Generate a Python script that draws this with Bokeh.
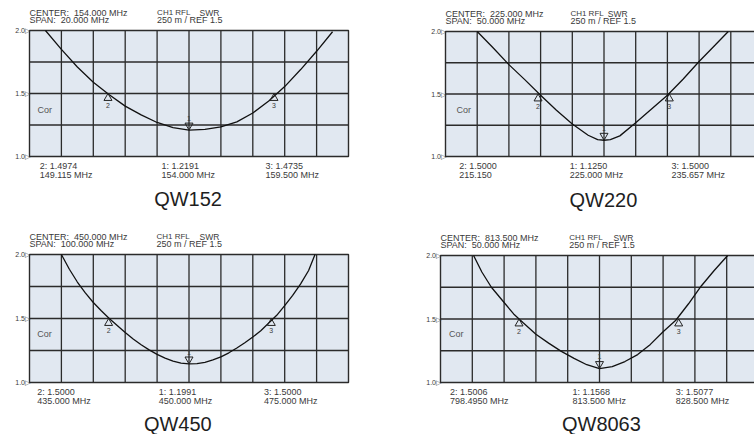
from bokeh.plotting import figure
from bokeh.layouts import gridplot
from bokeh.models import Range1d, ColumnDataSource
from bokeh.embed import file_html
from bokeh.resources import INLINE
from bokeh.core.properties import value
import math

# ---------------- data ----------------
qw152_center, qw152_span = 154.0, 20.0
qw152_freq = [145.0, 146.0, 147.0, 148.0, 149.0, 150.0, 151.0, 152.0, 153.0, 154.0,
              155.0, 156.0, 157.0, 158.0, 159.0, 160.0, 161.0, 162.0, 163.0]
qw152_swr = [2.00, 1.85, 1.71, 1.59, 1.49, 1.40, 1.33, 1.27, 1.23, 1.21,
             1.215, 1.235, 1.275, 1.345, 1.44, 1.555, 1.69, 1.835, 1.99]
qw152_mk_freq = [148.92, 154.0, 159.33]
qw152_mk_swr = [1.5, 1.21, 1.5]
qw152_mk_id = ["2", "1", "3"]
qw152_readout = [["2: 1.4974", "149.115 MHz"], ["1: 1.2191", "154.000 MHz"], ["3: 1.4735", "159.500 MHz"]]

qw220_center, qw220_span = 225.0, 50.0
qw220_freq = [205.0, 207.5, 210.0, 212.5, 215.0, 217.5, 220.0, 222.5, 224.0, 225.0,
              226.0, 227.5, 230.0, 232.5, 235.0, 237.5, 240.0, 242.5, 244.6]
qw220_swr = [2.00, 1.87, 1.735, 1.615, 1.49, 1.37, 1.26, 1.17, 1.135, 1.13,
             1.135, 1.165, 1.27, 1.38, 1.49, 1.62, 1.76, 1.89, 2.00]
qw220_mk_freq = [214.6, 225.0, 235.3]
qw220_mk_swr = [1.5, 1.13, 1.5]
qw220_mk_id = ["2", "1", "3"]
qw220_readout = [["2: 1.5000", "215.150"], ["1: 1.1250", "225.000 MHz"], ["3: 1.5000", "235.657 MHz"]]

qw450_center, qw450_span = 450.0, 100.0
qw450_freq = [410.0, 412.5, 415.0, 417.5, 420.0, 422.5, 425.0, 427.5, 430.0, 432.5, 435.0,
              437.5, 440.0, 442.5, 445.0, 447.5, 450.0, 452.5, 455.0, 457.5, 460.0,
              462.5, 465.0, 467.5, 470.0, 472.5, 475.0, 477.5, 480.0, 482.5, 485.0,
              487.5, 489.5]
qw450_swr = [2.00, 1.885, 1.785, 1.70, 1.625, 1.56, 1.50, 1.445, 1.39, 1.34, 1.295,
             1.255, 1.22, 1.19, 1.167, 1.152, 1.145, 1.148, 1.158, 1.176, 1.20,
             1.232, 1.27, 1.31, 1.355, 1.405, 1.465, 1.525, 1.60, 1.68, 1.77,
             1.875, 2.00]
qw450_mk_freq = [424.8, 450.0, 475.8]
qw450_mk_swr = [1.5, 1.145, 1.5]
qw450_mk_id = ["2", "1", "3"]
qw450_readout = [["2: 1.5000", "435.000 MHz"], ["1: 1.1991", "450.000 MHz"], ["3: 1.5000", "475.000 MHz"]]

qw8063_center, qw8063_span = 813.5, 50.0
qw8063_freq = [793.7, 795.0, 796.5, 798.5, 800.0, 801.5, 803.5, 805.5, 807.5, 809.5, 811.5,
               813.5, 815.5, 817.5, 819.5, 821.5, 823.5, 825.5, 827.5, 829.5, 831.5, 833.65]
qw8063_swr = [2.00, 1.87, 1.75, 1.63, 1.54, 1.47, 1.38, 1.31, 1.245, 1.19, 1.14,
              1.11, 1.125, 1.165, 1.22, 1.30, 1.40, 1.49, 1.62, 1.76, 1.88, 2.00]
qw8063_mk_freq = [800.85, 813.5, 825.95]
qw8063_mk_swr = [1.5, 1.11, 1.5]
qw8063_mk_id = ["2", "1", "3"]
qw8063_readout = [["2: 1.5006", "798.4950 MHz"], ["1: 1.1568", "813.500 MHz"], ["3: 1.5077", "828.500 MHz"]]

y_axis_ticks = [1.0, 1.5, 2.0]
y_grid_ticks = [1.25, 1.5, 1.75]
y_low, y_high = 1.0, 2.0

# ---------------- style ----------------
FONT = "Liberation Sans"
TXT = "#3a3a3a"
GRID = "#2b2b2b"
FILL = "#e1e8f1"
FIG_W, FIG_H = 377, 217
TRI_SIZE = 8
BASE_SHIFT = 0.32   # em: compensation of the rendered baseline position


def panel(name, center, span, freq, swr, mk_f, mk_s, mk_id, readout, cfg):
    start = center - span / 2.0
    div = span / 10.0
    ppx = cfg["div_px"] / div              # pixels per MHz
    ppy = float(cfg["frame_h"])             # pixels per SWR unit
    x0 = start - cfg["left"] / ppx
    y1 = y_high + cfg["top"] / ppy
    p = figure(width=FIG_W, height=FIG_H,
               x_range=Range1d(x0, x0 + FIG_W / ppx), y_range=Range1d(y1 - FIG_H / ppy, y1),
               output_backend="svg", toolbar_location=None, min_border=0,
               background_fill_color="white", border_fill_color="white")
    p.xaxis.visible = False
    p.yaxis.visible = False
    p.grid.visible = False
    p.outline_line_color = None

    end = start + span
    # plot area
    p.quad(left=[start], right=[end], bottom=[y_low], top=[y_high],
           fill_color=FILL, line_color=None)
    # grid
    gx = [start + k * div for k in range(1, 10)]
    p.segment(x0=gx, y0=[y_low] * len(gx), x1=gx, y1=[y_high] * len(gx),
              line_color=GRID, line_width=1.3)
    p.segment(x0=[start] * len(y_grid_ticks), y0=y_grid_ticks, x1=[end] * len(y_grid_ticks),
              y1=y_grid_ticks, line_color=GRID, line_width=1.3)
    # frame
    p.quad(left=[start], right=[end], bottom=[y_low], top=[y_high],
           fill_color=None, line_color=GRID, line_width=1.4)
    # y tick labels
    p.text(x=[start] * len(y_axis_ticks), y=y_axis_ticks,
           text=["%.1f\u25b7" % t for t in y_axis_ticks], text_align="right",
           text_baseline="middle", text_font=value(FONT), text_font_size="7px",
           text_color=TXT, x_offset=0.5)

    # curve
    p.line(freq, swr, line_color="#111111", line_width=1.3)

    # markers: apex of the triangle sits on the trace
    h = TRI_SIZE / 2.0 * math.sqrt(3)
    apex = (2.0 * h / 3.0) / ppy
    up_x = [f for f, m in zip(mk_f, mk_id) if m != "1"]
    up_y = [s - apex for s, m in zip(mk_s, mk_id) if m != "1"]
    dn_x = [f for f, m in zip(mk_f, mk_id) if m == "1"]
    dn_y = [s + apex for s, m in zip(mk_s, mk_id) if m == "1"]
    p.scatter(up_x, up_y, marker="triangle", size=TRI_SIZE, fill_color=None,
              line_color="#222222", line_width=1.0)
    p.scatter(dn_x, dn_y, marker="inverted_triangle", size=TRI_SIZE, fill_color=None,
              line_color="#222222", line_width=1.0)
    noff = [(14.5 if m != "1" else -9.5) - BASE_SHIFT * 7 for m in mk_id]
    src = ColumnDataSource(dict(x=mk_f, y=mk_s, id=mk_id, noff=noff))
    p.text(x="x", y="y", text="id", source=src, y_offset="noff", text_align="center",
           text_baseline="alphabetic", text_font=value(FONT), text_font_size="7px",
           text_color=TXT)

    def lab(xdiv, y, text, yoff, size=9, align="left", color=TXT):
        p.text(x=[start + xdiv * div], y=[y], text=[text], y_offset=yoff - BASE_SHIFT * size,
               text_font=value(FONT), text_font_size="%gpx" % size, text_color=color,
               text_align=align, text_baseline="alphabetic")

    # header
    h1, h2 = cfg["header"]
    lab(0, y_high, h1, -15)
    lab(0, y_high, h2, -7.5)
    lab(cfg["ch1"], y_high, "CH1 RFL", -15, size=8)
    lab(cfg["swr"], y_high, "SWR", -15, size=8.5)
    lab(cfg["ch1"], y_high, "250 m / REF 1.5", -7.5)
    # Cor
    lab(cfg["cor"][0], cfg["cor"][1], "Cor", 0, color="#555555")
    # readouts
    for xdiv, (l1, l2) in zip(cfg["ro"], readout):
        lab(xdiv, y_low, l1, 12.5)
        lab(xdiv, y_low, l2, 21.5)
    # name
    lab(cfg["title_x"], y_low, name, cfg["title_off"], size=20, align="center", color="#1e1e1e")
    return p


p1 = panel("QW152", qw152_center, qw152_span, qw152_freq, qw152_swr, qw152_mk_freq, qw152_mk_swr,
           qw152_mk_id, qw152_readout,
           dict(left=29, top=30, frame_h=126, div_px=31.9,
                header=("CENTER:\u00a0 154.000 MHz", "SPAN:\u00a0 20.000 MHz"),
                ch1=4.0, swr=5.33, cor=(0.25, 1.35), ro=[0.32, 4.14, 7.4],
                title_x=4.97, title_off=49))
p2 = panel("QW220", qw220_center, qw220_span, qw220_freq, qw220_swr, qw220_mk_freq, qw220_mk_swr,
           qw220_mk_id, qw220_readout,
           dict(left=68, top=31, frame_h=125, div_px=31.7,
                header=("CENTER:\u00a0 225.000 MHz", "SPAN:\u00a0 50.000 MHz"),
                ch1=3.94, swr=5.12, cor=(0.35, 1.35), ro=[0.43, 3.92, 7.13],
                title_x=4.98, title_off=50))
p3 = panel("QW450", qw450_center, qw450_span, qw450_freq, qw450_swr, qw450_mk_freq, qw450_mk_swr,
           qw450_mk_id, qw450_readout,
           dict(left=29, top=37, frame_h=128, div_px=31.9,
                header=("CENTER:\u00a0 450.000 MHz", "SPAN:\u00a0 100.000 MHz"),
                ch1=3.98, swr=5.33, cor=(0.24, 1.36), ro=[0.24, 4.05, 7.35],
                title_x=4.65, title_off=48))
p4 = panel("QW8063", qw8063_center, qw8063_span, qw8063_freq, qw8063_swr, qw8063_mk_freq, qw8063_mk_swr,
           qw8063_mk_id, qw8063_readout,
           dict(left=63, top=38, frame_h=127, div_px=31.8,
                header=("CENTER:\u00a0 813.500 MHz", "SPAN:\u00a0 50.000 MHz"),
                ch1=4.05, swr=5.44, cor=(0.27, 1.36), ro=[0.3, 4.15, 7.4],
                title_x=5.06, title_off=48))

layout = gridplot([[p1, p2], [p3, p4]], toolbar_location=None)
open("out.html", "w").write(file_html(layout, INLINE))
